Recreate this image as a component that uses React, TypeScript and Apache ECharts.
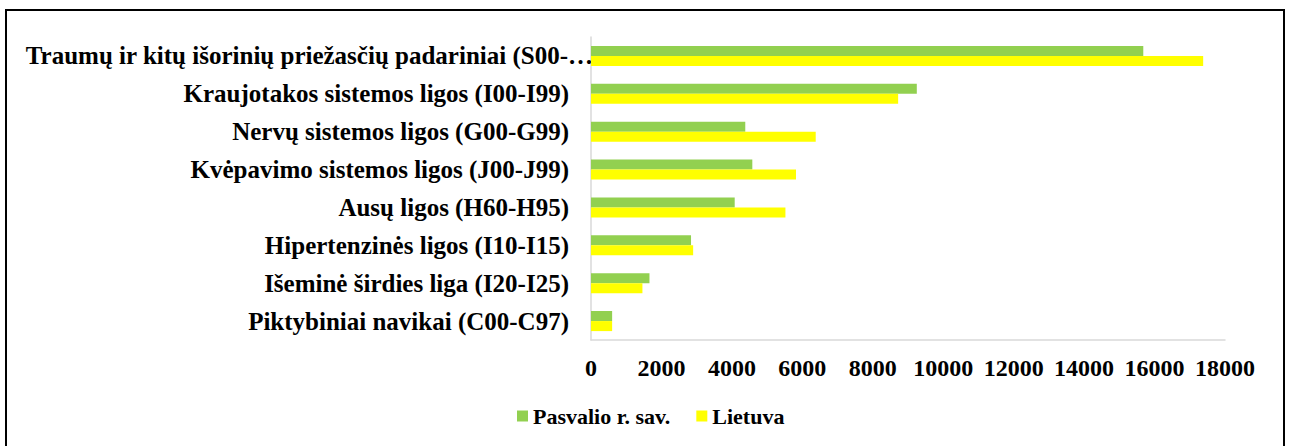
import React, { useEffect, useRef } from "react";
import * as echarts from "echarts";

const categories = [
  "Traumų ir kitų išorinių priežasčių padariniai (S00-…",
  "Kraujotakos sistemos ligos (I00-I99)",
  "Nervų sistemos ligos (G00-G99)",
  "Kvėpavimo sistemos ligos (J00-J99)",
  "Ausų ligos (H60-H95)",
  "Hipertenzinės ligos (I10-I15)",
  "Išeminė širdies liga (I20-I25)",
  "Piktybiniai navikai (C00-C97)",
];
const pasvalio = [15680, 9250, 4380, 4580, 4080, 2840, 1660, 600];
const lietuva = [17380, 8720, 6380, 5820, 5520, 2900, 1460, 600];
const seriesNames = ["Pasvalio r. sav.", "Lietuva"];

const FONT = "'Liberation Serif', 'Times New Roman', serif";

export default function App() {
  const ref = useRef<HTMLDivElement>(null);
  useEffect(() => {
    const chart = echarts.init(ref.current!, null, { renderer: "svg" });
    const yLabelBase = {
      color: "#000",
      fontFamily: FONT,
      fontWeight: "bold",
      fontSize: 25,
    };
    chart.setOption({
      animation: false,
      backgroundColor: "#ffffff",
      textStyle: { fontFamily: FONT },
      grid: { left: 591, right: 66, top: 37, bottom: 106, containLabel: false },
      legend: {
        left: 512,
        top: 400,
        itemWidth: 11,
        itemHeight: 11,
        itemGap: 26,
        icon: "rect",
        data: seriesNames,
        textStyle: { fontFamily: FONT, fontWeight: "bold", fontSize: 22, color: "#000" },
      },
      xAxis: {
        type: "value",
        min: 0,
        max: 18000,
        interval: 2000,
        axisLine: { show: true, lineStyle: { color: "#d9d9d9", width: 1.5 } },
        axisTick: { show: false },
        splitLine: { show: false },
        axisLabel: {
          margin: 16,
          color: "#000",
          fontFamily: FONT,
          fontWeight: "bold",
          fontSize: 24,
          formatter: (v: number) => String(v),
        },
      },
      yAxis: [
        {
          type: "category",
          inverse: true,
          data: categories,
          axisLine: { show: true, lineStyle: { color: "#d9d9d9", width: 1.5 } },
          axisTick: { show: false },
          axisLabel: {
            ...yLabelBase,
            margin: 22,
            formatter: (v: string, i: number) => (i === 0 ? "" : v),
          },
        },
        {
          type: "category",
          inverse: true,
          position: "left",
          data: categories,
          axisLine: { show: false },
          axisTick: { show: false },
          axisLabel: {
            ...yLabelBase,
            margin: -2,
            formatter: (v: string, i: number) => (i === 0 ? v : ""),
          },
        },
      ],
      series: [
        {
          name: seriesNames[0],
          type: "bar",
          data: pasvalio,
          itemStyle: { color: "#92d050" },
          barGap: "0%",
          barCategoryGap: "47%",
        },
        {
          name: seriesNames[1],
          type: "bar",
          data: lietuva,
          itemStyle: { color: "#ffff00" },
          barGap: "0%",
          barCategoryGap: "47%",
        },
      ],
    });
    return () => chart.dispose();
  }, []);
  return (
    <>
      <div
        ref={ref}
        style={{ position: "fixed", left: 0, top: 0, width: 1291, height: 446 }}
      />
      <div
        style={{
          position: "fixed",
          left: 5,
          top: 9,
          width: 1280,
          height: 460,
          boxSizing: "border-box",
          borderTop: "2px solid #000",
          borderLeft: "2px solid #000",
          borderRight: "2px solid #000",
          pointerEvents: "none",
        }}
      />
    </>
  );
}
